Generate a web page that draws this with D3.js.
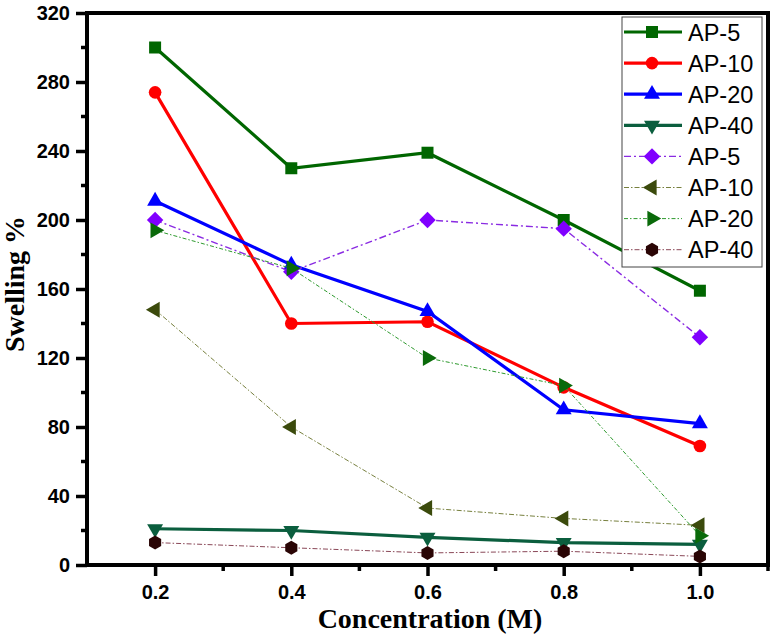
<!DOCTYPE html>
<html><head><meta charset="utf-8">
<script src="https://cdn.jsdelivr.net/npm/d3@7"></script>
<style>body{margin:0;background:#fff}svg{display:block}</style>
</head><body>
<svg id="c" width="774" height="637"></svg>
<script>
const concentrations = [0.2, 0.4, 0.6, 0.8, 1.0];
const seriesNames = ["AP-5","AP-10","AP-20","AP-40","AP-5","AP-10","AP-20","AP-40"];
const ap5Solid  = [300, 230, 239, 200, 159];
const ap10Solid = [274, 140, 141, 103, 69];
const ap20Solid = [211, 174, 147, 90, 82];
const ap40Solid = [21, 20, 16, 13, 12];
const ap5Dash   = [200, 170, 200, 195, 132];
const ap10Dash  = [148, 80, 33, 27, 23];
const ap20Dash  = [194, 172, 120, 104, 17];
const ap40Dash  = [13, 10, 7, 8, 5];
const yTicks = [0, 40, 80, 120, 160, 200, 240, 280, 320];
const xTicks = [0.2, 0.4, 0.6, 0.8, 1.0];

const styles = [
  {vals: ap5Solid,  line:"#006600", fill:"#006600", w:3.2, dash:null, sym:"square"},
  {vals: ap10Solid, line:"#ff0000", fill:"#ff0000", w:3.2, dash:null, sym:"circle"},
  {vals: ap20Solid, line:"#0000ff", fill:"#0000ff", w:3.2, dash:null, sym:"up"},
  {vals: ap40Solid, line:"#0b5e3e", fill:"#0b5e3e", w:3.2, dash:null, sym:"down"},
  {vals: ap5Dash,   line:"#8a2be2", fill:"#8000ff", w:1.4, dash:"7,3,2,3", sym:"diamond"},
  {vals: ap10Dash,  line:"#77803e", fill:"#3b4a0c", w:1, dash:"5,2,1.5,2", sym:"left"},
  {vals: ap20Dash,  line:"#2e9a2e", fill:"#0a6a0a", w:1, dash:"4,2,1.5,2", sym:"right"},
  {vals: ap40Dash,  line:"#8a4858", fill:"#2a0505", w:1, dash:"5,2,1.5,2", sym:"hex"}
];

const svg = d3.select("#c");
const L = 87, R = 768, T = 13, B = 565;
const x = d3.scaleLinear().domain([0.1, 1.1]).range([L, R]);
const y = d3.scaleLinear().domain([0, 320]).range([B, T]);

function symPath(kind){
  const tri = d3.symbol().type(d3.symbolTriangle).size(110)();
  switch(kind){
    case "square": return {d: d3.symbol().type(d3.symbolSquare).size(144)(), rot:0};
    case "circle": return {d: d3.symbol().type(d3.symbolCircle).size(125)(), rot:0};
    case "up": return {d: tri, rot:0};
    case "down": return {d: tri, rot:180};
    case "left": return {d: tri, rot:-90};
    case "right": return {d: tri, rot:90};
    case "diamond": return {d: d3.symbol().type(d3.symbolSquare).size(135)(), rot:45};
    case "hex": {
      const r = 7, pts = d3.range(6).map(i => { const a = Math.PI/6 + i*Math.PI/3; return [r*Math.cos(a), r*Math.sin(a)]; });
      return {d: "M" + pts.map(p => p.join(",")).join("L") + "Z", rot:0};
    }
  }
}

// lines and markers
const lineGen = d3.line().x((d,i) => x(concentrations[i])).y(d => y(d));
styles.forEach(s => {
  svg.append("path").attr("d", lineGen(s.vals)).attr("fill","none")
    .attr("stroke", s.line).attr("stroke-width", s.w)
    .attr("stroke-dasharray", s.dash);
  const sp = symPath(s.sym);
  svg.append("g").selectAll("path").data(s.vals).join("path")
    .attr("d", sp.d).attr("fill", s.fill)
    .attr("transform", (d,i) => `translate(${x(concentrations[i])},${y(d)}) rotate(${sp.rot})`);
});

// axes
const yAxis = d3.axisLeft(y).tickValues(yTicks).tickSize(11).tickPadding(6);
const gy = svg.append("g").attr("transform", `translate(${L},0)`).call(yAxis);
const xAxis = d3.axisBottom(x).tickValues(xTicks).tickFormat(d3.format(".1f")).tickSize(11).tickPadding(9);
const gx = svg.append("g").attr("transform", `translate(0,${B})`).call(xAxis);
[gx, gy].forEach(g => {
  g.select(".domain").remove();
  g.selectAll(".tick line").attr("stroke","#000").attr("stroke-width",3.5);
  g.selectAll("text").attr("font-family","Liberation Sans, Arial, sans-serif")
    .attr("font-weight","bold").attr("font-size",20).attr("fill","#000");
});
// minor ticks
const yMinor = d3.range(20, 320, 40);
svg.append("g").selectAll("line").data(yMinor).join("line")
  .attr("x1", L-6).attr("x2", L).attr("y1", d => y(d)).attr("y2", d => y(d))
  .attr("stroke","#000").attr("stroke-width",3.5);
const xMinor = [0.3, 0.5, 0.7, 0.9, 1.1];
svg.append("g").selectAll("line").data(xMinor).join("line")
  .attr("y1", B).attr("y2", B+6).attr("x1", d => x(d)).attr("x2", d => x(d))
  .attr("stroke","#000").attr("stroke-width",3.5);

// frame
svg.append("rect").attr("x", L).attr("y", T).attr("width", R-L).attr("height", B-T)
  .attr("fill","none").attr("stroke","#000").attr("stroke-width",4);

// axis titles
svg.append("text").attr("x", 430).attr("y", 628).attr("text-anchor","middle")
  .attr("font-family","Liberation Serif, Times New Roman, serif").attr("font-weight","bold")
  .attr("font-size",28).text("Concentration (M)");
svg.append("text").attr("transform", `translate(24,284) rotate(-90)`).attr("text-anchor","middle")
  .attr("font-family","Liberation Serif, Times New Roman, serif").attr("font-weight","bold")
  .attr("font-size",28).text("Swelling %");

// legend
const lg = svg.append("g");
lg.append("rect").attr("x", 622).attr("y", 17).attr("width", 140).attr("height", 250)
  .attr("fill","#fff").attr("stroke","#444").attr("stroke-width",1);
styles.forEach((s, i) => {
  const cy = 32 + i*31.1;
  lg.append("line").attr("x1", 624).attr("x2", 682).attr("y1", cy).attr("y2", cy)
    .attr("stroke", s.line).attr("stroke-width", s.w).attr("stroke-dasharray", s.dash);
  const sp = symPath(s.sym);
  lg.append("path").attr("d", sp.d).attr("fill", s.fill)
    .attr("transform", `translate(652,${cy}) rotate(${sp.rot})`);
  lg.append("text").attr("x", 688).attr("y", cy + 8.5)
    .attr("font-family","Liberation Sans, Arial, sans-serif").attr("font-size",23.5)
    .attr("fill","#000").text(seriesNames[i]);
});
</script>
</body></html>
